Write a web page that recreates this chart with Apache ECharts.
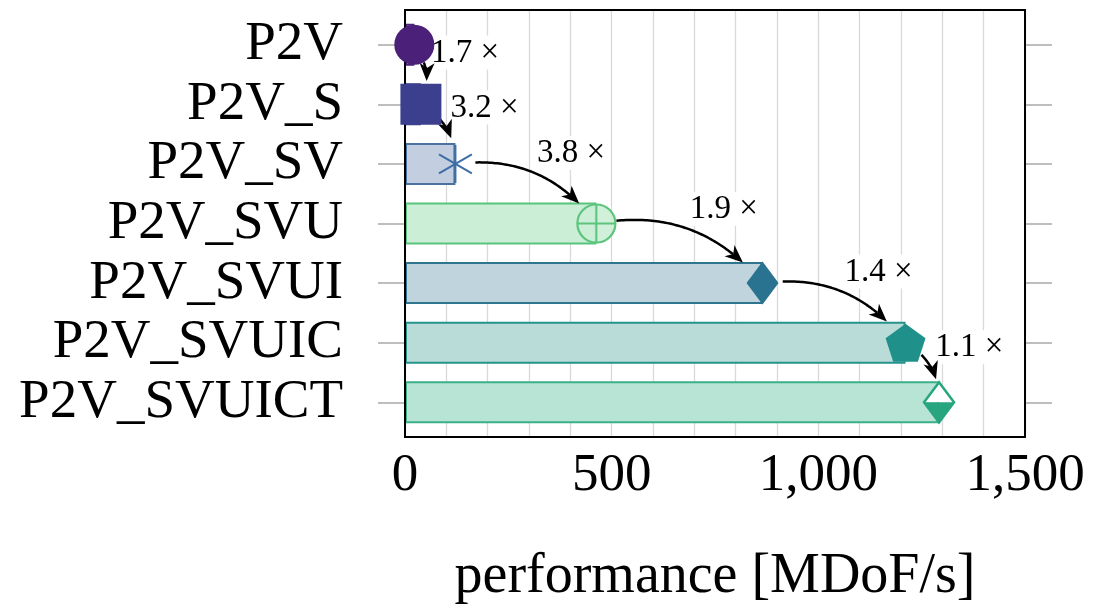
<!DOCTYPE html>
<html>
<head>
<meta charset="utf-8">
<title>performance [MDoF/s]</title>
<script src="https://cdn.jsdelivr.net/npm/echarts@6/dist/echarts.min.js"></script>
<style>
  html, body { margin: 0; padding: 0; background: #ffffff; }
  #chart { width: 1094px; height: 611px; }
</style>
</head>
<body>
<div id="chart"></div>
<script>
// Kernel variants, from the baseline to the fully optimised one
const categories = ['P2V', 'P2V_S', 'P2V_SV', 'P2V_SVU', 'P2V_SVUI', 'P2V_SVUIC', 'P2V_SVUICT'];
// Throughput of each variant in MDoF/s
const performance = [22.5, 38.5, 122, 463, 865, 1211, 1292];
// Value axis range and labelled steps
const xMin = 0;
const xMax = 1500;
const xLabelStep = 500;
const xGridStep = 100;

// Per-variant styling
const barFill   = ['#cdc0dc', '#c4c6df', '#c3cfe0', '#cbeed6', '#bfd4dd', '#b9dcd9', '#b7e4d5'];
const barEdge   = ['#4a2079', '#3c3f8e', '#4a72a0', '#5bc47c', '#2f7590', '#24948c', '#3bb08a'];
const markKind  = ['circle', 'square', 'asterisk', 'oplus', 'diamond', 'pentagon', 'halfdiamond'];
const markColor = ['#4a2079', '#3c3f8e', '#3d6ea6', '#5cc47c', '#2a7390', '#1f918a', '#27a57e'];
const endClip   = [24, 24, 26, 26, 28, 28, 23];

const FONT = '"Liberation Serif", "DejaVu Serif", serif';
const PLOT = { left: 405, top: 10, width: 620, height: 427 };
const BAND = 59.6;
const innerTop = PLOT.top + (PLOT.height - BAND * categories.length) / 2;

function drawMarker(kind, color, x, y) {
  switch (kind) {
    case 'circle':
      return { type: 'circle', shape: { cx: x, cy: y, r: 20 }, style: { fill: color } };
    case 'square':
      return { type: 'rect', shape: { x: x - 20.5, y: y - 20.5, width: 41, height: 41 }, style: { fill: color } };
    case 'asterisk': {
      const arms = [90, 30, 150].map(function (a) {
        const r = a * Math.PI / 180, L = 19;
        return { type: 'line', shape: { x1: x - L * Math.cos(r), y1: y - L * Math.sin(r), x2: x + L * Math.cos(r), y2: y + L * Math.sin(r) },
                 style: { stroke: color, lineWidth: 2 } };
      });
      return { type: 'group', children: arms };
    }
    case 'oplus':
      return { type: 'group', children: [
        { type: 'circle', shape: { cx: x, cy: y, r: 19 }, style: { fill: 'rgba(203,238,214,0.9)', stroke: color, lineWidth: 2.2 } },
        { type: 'line', shape: { x1: x - 19, y1: y, x2: x + 19, y2: y }, style: { stroke: color, lineWidth: 2 } },
        { type: 'line', shape: { x1: x, y1: y - 19, x2: x, y2: y + 19 }, style: { stroke: color, lineWidth: 2 } }
      ] };
    case 'diamond':
      return { type: 'polygon', shape: { points: [[x, y - 21.5], [x + 16, y], [x, y + 21.5], [x - 16, y]] }, style: { fill: color } };
    case 'pentagon': {
      const pts = [];
      for (let k = 0; k < 5; k++) {
        const a = (-90 + 72 * k) * Math.PI / 180;
        pts.push([x + 21 * Math.cos(a), y + 2 + 21 * Math.sin(a)]);
      }
      return { type: 'polygon', shape: { points: pts }, style: { fill: color } };
    }
    case 'halfdiamond':
      return { type: 'group', children: [
        { type: 'polygon', shape: { points: [[x, y - 20], [x + 15, y], [x - 15, y]] }, style: { fill: '#ffffff' } },
        { type: 'polygon', shape: { points: [[x - 15, y], [x + 15, y], [x, y + 20]] }, style: { fill: color } },
        { type: 'polygon', shape: { points: [[x, y - 20], [x + 15, y], [x, y + 20], [x - 15, y]] }, style: { fill: null, stroke: color, lineWidth: 2.5 } }
      ] };
  }
  return null;
}

// Curved "bend left" connector between two marks, with its speed-up label
function drawSpeedup(p0, p1, r0, r1, text) {
  const dx = p1[0] - p0[0], dy = p1[1] - p0[1];
  const d = Math.hypot(dx, dy);
  const th = Math.atan2(dy, dx);
  const bend = 30 * Math.PI / 180;
  const L = 0.3915 * d;
  const c1 = [p0[0] + L * Math.cos(th - bend), p0[1] + L * Math.sin(th - bend)];
  const c2 = [p1[0] - L * Math.cos(th + bend), p1[1] - L * Math.sin(th + bend)];
  const B = function (t) {
    const u = 1 - t;
    return [u * u * u * p0[0] + 3 * u * u * t * c1[0] + 3 * u * t * t * c2[0] + t * t * t * p1[0],
            u * u * u * p0[1] + 3 * u * u * t * c1[1] + 3 * u * t * t * c2[1] + t * t * t * p1[1]];
  };
  const N = 400;
  let t0 = 0, t1 = 1;
  for (let i = 0; i <= N; i++) { const q = B(i / N); if (Math.hypot(q[0] - p0[0], q[1] - p0[1]) >= r0) { t0 = i / N; break; } }
  for (let i = N; i >= 0; i--) { const q = B(i / N); if (Math.hypot(q[0] - p1[0], q[1] - p1[1]) >= r1) { t1 = i / N; break; } }
  const tip = B(t1);
  const prev = B(Math.max(t0, t1 - 0.02));
  let ux = tip[0] - prev[0], uy = tip[1] - prev[1];
  const un = Math.hypot(ux, uy) || 1; ux /= un; uy /= un;
  const headLen = 18, headHalf = 7.5;
  const back = [tip[0] - ux * headLen, tip[1] - uy * headLen];
  const notch = [tip[0] - ux * headLen * 0.72, tip[1] - uy * headLen * 0.72];
  const pts = [];
  for (let i = 0; i <= 60; i++) {
    const q = B(t0 + (t1 - t0) * i / 60);
    if (Math.hypot(q[0] - tip[0], q[1] - tip[1]) < headLen * 0.72) break;
    pts.push(q);
  }
  pts.push(notch);
  const mid = B((t0 + t1) / 2);
  return { type: 'group', children: [
    { type: 'text', x: mid[0] + 2, y: mid[1] - 2,
      style: { text: text, font: '33px ' + FONT, fill: '#000', align: 'left', verticalAlign: 'bottom',
               backgroundColor: '#ffffff', padding: [1, 3, 0, 3] } },
    { type: 'polyline', shape: { points: pts }, style: { stroke: '#000', lineWidth: 2.5, fill: null } },
    { type: 'polygon', shape: { points: [tip, [back[0] - uy * headHalf, back[1] + ux * headHalf], notch, [back[0] + uy * headHalf, back[1] - ux * headHalf]] },
      style: { fill: '#000' } }
  ] };
}

const tickStyle = { show: true, alignWithLabel: true, length: 27, inside: false, lineStyle: { color: '#a9a9a9', width: 1.5 } };

const option = {
  animation: false,
  backgroundColor: '#ffffff',
  grid: [
    { left: PLOT.left, width: PLOT.width, top: innerTop, height: BAND * categories.length, show: false },
    { left: PLOT.left, width: PLOT.width, top: PLOT.top, height: PLOT.height, show: true, z: 4,
      borderColor: '#000000', borderWidth: 2, backgroundColor: 'rgba(0,0,0,0)' }
  ],
  xAxis: [
    { gridIndex: 0, type: 'value', min: xMin, max: xMax, show: false },
    { gridIndex: 1, type: 'value', min: xMin, max: xMax, interval: xLabelStep,
      axisLine: { show: false }, axisTick: { show: false },
      splitLine: { show: true, lineStyle: { color: '#d9d9d9', width: 1.3 } },
      minorTick: { show: false, splitNumber: xLabelStep / xGridStep },
      minorSplitLine: { show: true, lineStyle: { color: '#d9d9d9', width: 1.3 } },
      axisLabel: { color: '#000', fontFamily: FONT, fontSize: 53, margin: 13,
                   formatter: function (v) { return Number(v).toLocaleString('en-US'); } },
      name: 'performance [MDoF/s]', nameLocation: 'middle', nameGap: 112,
      nameTextStyle: { color: '#000', fontFamily: FONT, fontSize: 56 } }
  ],
  yAxis: [
    { gridIndex: 0, type: 'category', data: categories, inverse: true,
      axisLine: { show: false }, axisTick: tickStyle, splitLine: { show: false },
      axisLabel: { color: '#000', fontFamily: FONT, fontSize: 55, margin: 62, interval: 0 } },
    { gridIndex: 0, type: 'category', data: categories, inverse: true, position: 'right',
      axisLine: { show: false }, axisTick: tickStyle, splitLine: { show: false }, axisLabel: { show: false } },
    { gridIndex: 1, type: 'value', min: 0, max: 1, show: false }
  ],
  series: [
    { type: 'bar', xAxisIndex: 0, yAxisIndex: 0, barWidth: 42, z: 2,
      data: performance.map(function (v, i) {
        return { value: v, itemStyle: { color: barFill[i], borderColor: barEdge[i], borderWidth: 2 } };
      }) },
    { type: 'custom', xAxisIndex: 0, yAxisIndex: 0, z: 5,
      data: performance.slice(1).map(function (v, i) { return [performance[i], i, v, i + 1]; }),
      encode: { x: [0, 2], y: [1, 3] },
      renderItem: function (params, api) {
        const a = api.value(0), ia = api.value(1), b = api.value(2), ib = api.value(3);
        const p0 = api.coord([a, ia]);
        const p1 = api.coord([b, ib]);
        const ratio = (b / a).toFixed(1) + ' \u00d7';
        return drawSpeedup(p0, p1, 20, endClip[ib], ratio);
      } },
    { type: 'custom', xAxisIndex: 0, yAxisIndex: 0, z: 6,
      data: performance.map(function (v, i) { return [v, i]; }),
      encode: { x: 0, y: 1 },
      renderItem: function (params, api) {
        const p = api.coord([api.value(0), api.value(1)]);
        return drawMarker(markKind[params.dataIndex], markColor[params.dataIndex], p[0], p[1]);
      } }
  ]
};

const chart = echarts.init(document.getElementById('chart'), null, { renderer: 'canvas' });
chart.setOption(option);
</script>
</body>
</html>
